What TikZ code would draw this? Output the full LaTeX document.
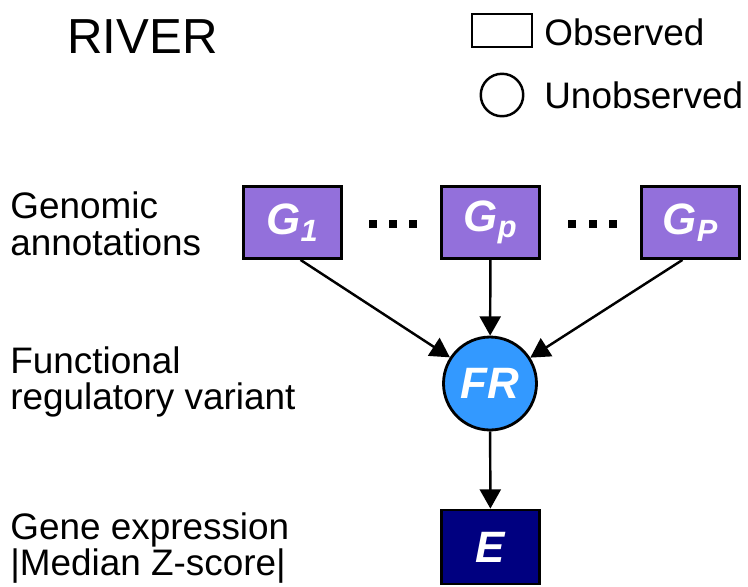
\documentclass[tikz,border=0pt]{standalone}
\usepackage{fontspec}
\setmainfont{Liberation Sans}
\usepackage{tikz}
\usetikzlibrary{arrows.meta, positioning}
\definecolor{annotpurple}{RGB}{147,112,219}
\definecolor{frblue}{RGB}{51,153,255}
\definecolor{exprnavy}{RGB}{0,0,128}

\tikzset{
  varbox/.style={draw=black, line width=1.6pt, minimum width=1.96cm, minimum height=1.44cm,
    inner sep=0pt, text=white, font=\fontsize{25}{25}\selectfont\bfseries\itshape},
  varcirc/.style={circle, draw=black, line width=1.6pt, minimum size=1.86cm, inner sep=0pt,
    text=white, font=\fontsize{25}{25}\selectfont\bfseries\itshape},
  rowlabel/.style={anchor=west, align=left, inner sep=0pt, font=\fontsize{21}{21}\selectfont},
  conn/.style={-{Triangle[length=11pt,width=12pt]}, line width=1.4pt}
}

\begin{document}
\begin{tikzpicture}[x=0.02cm, y=-0.02cm]
    \useasboundingbox (0,0) rectangle (748,586);

    % title and legend
    \node[anchor=west, inner sep=0pt, font=\fontsize{28}{28}\selectfont] (title) at (67,37) {RIVER};
    \node[draw=black, line width=1.4pt, minimum width=1.2cm, minimum height=0.66cm, inner sep=0pt] (legobs) at (502,30.5) {};
    \node[circle, draw=black, line width=1.4pt, minimum size=0.85cm, inner sep=0pt] (legunobs) at (502,95) {};
    \node[anchor=west, inner sep=0pt, font=\fontsize{21}{21}\selectfont] (obstext) at (544,32) {Observed};
    \node[anchor=west, inner sep=0pt, font=\fontsize{21}{21}\selectfont] (unobstext) at (544,95) {Unobserved};

    % row labels
    \node[rowlabel] (lgenomic) at (10,224) {Genomic\\annotations};
    \node[rowlabel] (lfunc) at (10,382) {Functional\\regulatory variant};
    \node[rowlabel] (lexpr) at (10,548) {Gene expression\\|Median Z-score|};

    % genomic annotation boxes
    \node[varbox, fill=annotpurple] (g1) at (292.5,222.5) {G\textsubscript{1}};
    \node[varbox, fill=annotpurple] (gp) at (490.5,222.5) {G\textsubscript{p}};
    \node[varbox, fill=annotpurple] (gP) at (690.5,222.5) {G\textsubscript{P}};
    \foreach \x in {373,393,413,572,593,613}
        \fill (\x-4,220) rectangle (\x+4,228);

    % latent variable and expression
    \node[varcirc, fill=frblue] (fr) at (490,383.5) {FR};
    \node[varbox, fill=exprnavy, minimum height=1.48cm] (e) at (490.5,547) {E};

    \draw[conn] ([xshift=0.16cm]g1.south) -- (fr);
    \draw[conn] (gp) -- (fr);
    \draw[conn] ([xshift=-0.16cm]gP.south) -- (fr);
    \draw[conn] (fr) -- (e);
\end{tikzpicture}
\end{document}
